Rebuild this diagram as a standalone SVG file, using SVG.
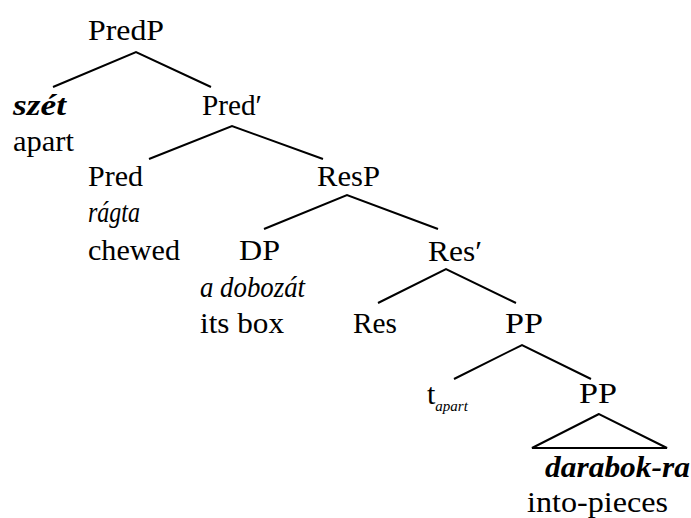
<svg xmlns="http://www.w3.org/2000/svg" width="691" height="518" viewBox="0 0 691 518">
  <style>
    .t { font-family: "Liberation Serif", "DejaVu Serif", "Noto Serif", "FreeSerif", "Nimbus Roman", "Nimbus Roman No9 L", "Tinos", "Times", "Georgia", "Droid Serif", "PT Serif", "Source Serif Pro", "Bitstream Charter", "Century Schoolbook L", "Gelasio", serif; font-size: 30px; fill: #000; }
    .it { font-style: italic; }
    .bi { font-style: italic; font-weight: bold; }
    .sub { font-style: italic; font-size: 15px; }
    .edge { stroke: #000; stroke-width: 2; fill: none; stroke-linecap: butt; }
  </style>
  <rect width="691" height="518" fill="#fff"/>

  <!-- tree branches -->
  <g id="connectors">
    <path class="edge" d="M53,87 L136,52 L211,87"/>
    <path class="edge" d="M149,159 L232,126 L323,159"/>
    <path class="edge" d="M264,229 L347,195 L438,229"/>
    <path class="edge" d="M378,303 L446,269 L516,303"/>
    <path class="edge" d="M454,379 L522,345 L591,379"/>
    <path class="edge" d="M599,414 L532,448 L667,448 Z"/>
  </g>

  <g id="predp">
    <text class="t" x="88" y="40" textLength="76" lengthAdjust="spacingAndGlyphs">PredP</text>
  </g>
  <g id="szet">
    <text class="t bi" x="13" y="115" textLength="53" lengthAdjust="spacingAndGlyphs">szét</text>
    <text class="t" x="13" y="151" textLength="61" lengthAdjust="spacingAndGlyphs">apart</text>
  </g>
  <g id="pred-bar">
    <text class="t" x="202" y="115" textLength="60" lengthAdjust="spacingAndGlyphs">Pred′</text>
  </g>
  <g id="pred">
    <text class="t" x="88" y="186" textLength="55" lengthAdjust="spacingAndGlyphs">Pred</text>
    <text class="t it" x="88" y="222" textLength="52" lengthAdjust="spacingAndGlyphs">rágta</text>
    <text class="t" x="88" y="260" textLength="92" lengthAdjust="spacingAndGlyphs">chewed</text>
  </g>
  <g id="resp">
    <text class="t" x="317" y="186" textLength="63" lengthAdjust="spacingAndGlyphs">ResP</text>
  </g>
  <g id="dp">
    <text class="t" x="239" y="260" textLength="41" lengthAdjust="spacingAndGlyphs">DP</text>
    <text class="t it" x="200" y="297" textLength="105" lengthAdjust="spacingAndGlyphs">a dobozát</text>
    <text class="t" x="200" y="333" textLength="84" lengthAdjust="spacingAndGlyphs">its box</text>
  </g>
  <g id="res-bar">
    <text class="t" x="428" y="261" textLength="54" lengthAdjust="spacingAndGlyphs">Res′</text>
  </g>
  <g id="res">
    <text class="t" x="353" y="333" textLength="44" lengthAdjust="spacingAndGlyphs">Res</text>
  </g>
  <g id="pp-upper">
    <text class="t" x="505" y="333" textLength="38" lengthAdjust="spacingAndGlyphs">PP</text>
  </g>
  <g id="trace">
    <text class="t" x="427" y="404">t<tspan class="sub" dy="7">apart</tspan></text>
  </g>
  <g id="pp-lower">
    <text class="t" x="579" y="403" textLength="38" lengthAdjust="spacingAndGlyphs">PP</text>
    <text class="t bi" x="545" y="477" textLength="145" lengthAdjust="spacingAndGlyphs">darabok-ra</text>
    <text class="t" x="527" y="512" textLength="141" lengthAdjust="spacingAndGlyphs">into-pieces</text>
  </g>
</svg>
